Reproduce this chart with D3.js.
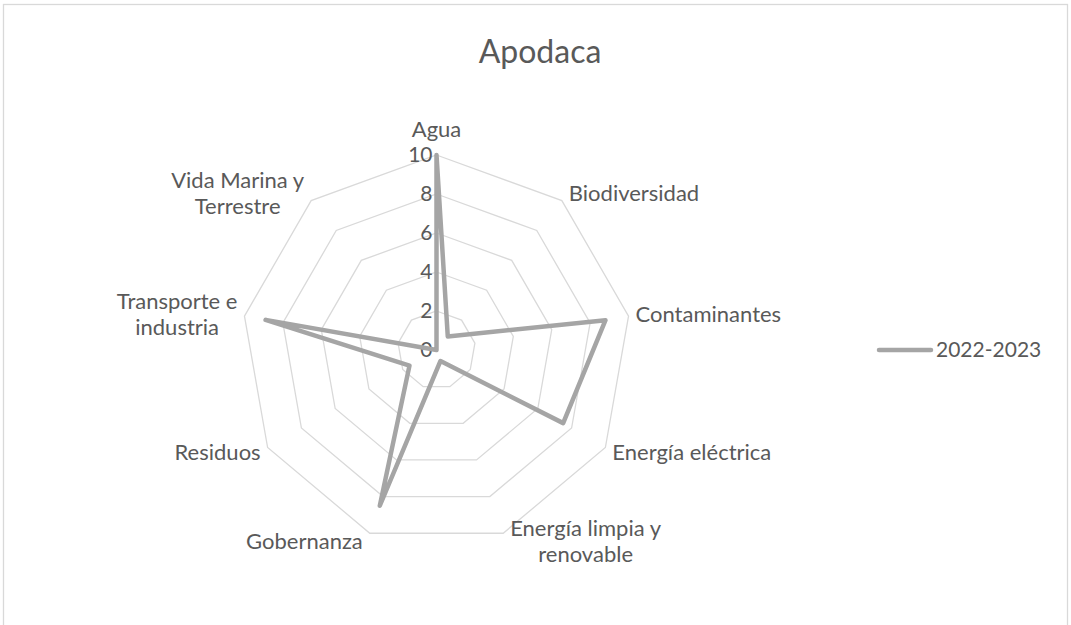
<!DOCTYPE html>
<html>
<head>
<meta charset="utf-8">
<script src="https://cdn.jsdelivr.net/npm/d3@7"></script>
<style>
  body { margin: 0; background: #fff; }
  text { font-family: Lato, "Open Sans", sans-serif; fill: #595959; }
</style>
</head>
<body>
<script>
// chart data
const categories = [
  "Agua", "Biodiversidad", "Contaminantes", "Energía eléctrica",
  "Energía limpia y renovable", "Gobernanza", "Residuos",
  "Transporte e industria", "Vida Marina y Terrestre"
];
const labelLines = [
  ["Agua"], ["Biodiversidad"], ["Contaminantes"], ["Energía eléctrica"],
  ["Energía limpia y", "renovable"], ["Gobernanza"], ["Residuos"],
  ["Transporte e", "industria"], ["Vida Marina y", "Terrestre"]
];
const seriesName = "2022-2023";
const values = [10, 0.9, 8.8, 7.5, 0.6, 8.5, 1.6, 8.9, 0];
const ticks = [0, 2, 4, 6, 8, 10];

const W = 1071, H = 625;
const cx = 436.5, cy = 350, R = 195;

const svg = d3.select('body').append('svg')
  .attr('width', W)
  .attr('height', H);

// chart border
svg.append('rect')
  .attr('x', 3.5).attr('y', 4.5)
  .attr('width', 1064).attr('height', 640)
  .attr('fill', 'none')
  .attr('stroke', '#d9d9d9')
  .attr('stroke-width', 1.3);

svg.append('text')
  .attr('x', 540).attr('y', 63)
  .attr('text-anchor', 'middle')
  .style('font-size', '32px')
  .text('Apodaca');

const r = d3.scaleLinear().domain([0, 10]).range([0, R]);
const angle = d3.scaleLinear().domain([0, categories.length]).range([0, 2 * Math.PI]);

const g = svg.append('g').attr('transform', `translate(${cx},${cy})`);

// grid rings
const ring = d3.lineRadial().curve(d3.curveLinearClosed);
g.selectAll('.ring')
  .data(ticks.filter(t => t > 0))
  .enter().append('path')
  .attr('class', 'ring')
  .attr('d', t => ring(categories.map((c, i) => [angle(i), r(t)])))
  .attr('fill', 'none')
  .attr('stroke', '#d9d9d9')
  .attr('stroke-width', 1.3);

// tick labels along the first axis
g.selectAll('.tick')
  .data(ticks)
  .enter().append('text')
  .attr('class', 'tick')
  .attr('x', -4)
  .attr('y', t => -r(t))
  .attr('dy', '0.35em')
  .attr('text-anchor', 'end')
  .style('font-size', '21px')
  .text(t => t);

// series
const line = d3.lineRadial()
  .angle((d, i) => angle(i))
  .radius(d => r(d))
  .curve(d3.curveLinearClosed);

g.append('path')
  .datum(values)
  .attr('d', line)
  .attr('fill', 'none')
  .attr('stroke', '#a5a5a5')
  .attr('stroke-width', 4.5)
  .attr('stroke-linejoin', 'round');

// category labels
const lh = 26;
labelLines.forEach((lines, i) => {
  const a = angle(i);
  const s = Math.sin(a), c = Math.cos(a);
  const vx = r(10) * s, vy = -r(10) * c;
  const lab = g.append('g');
  const texts = lab.selectAll('text').data(lines).enter().append('text')
    .attr('text-anchor', 'middle')
    .style('font-size', '22px')
    .attr('y', (d, k) => k * lh)
    .text(d => d);
  const bw = d3.max(texts.nodes(), n => n.getComputedTextLength());
  const bh = lines.length * lh;
  let x, yc;
  if (Math.abs(s) < 0.1) {
    x = vx;
    yc = vy - 13 - bh / 2;
  } else {
    x = s > 0 ? vx + 7 + bw / 2 : vx - 7 - bw / 2;
    yc = vy - c * 9;
  }
  lab.attr('transform', `translate(${x},${yc - bh / 2 + lh / 2})`);
  texts.attr('dy', '0.35em');
});

// legend
svg.append('line')
  .attr('x1', 879).attr('x2', 931)
  .attr('y1', 350).attr('y2', 350)
  .attr('stroke', '#a5a5a5')
  .attr('stroke-width', 4.5)
  .attr('stroke-linecap', 'round');
svg.append('text')
  .attr('x', 936).attr('y', 350)
  .attr('dy', '0.35em')
  .style('font-size', '21px')
  .text(seriesName);
</script>
</body>
</html>
